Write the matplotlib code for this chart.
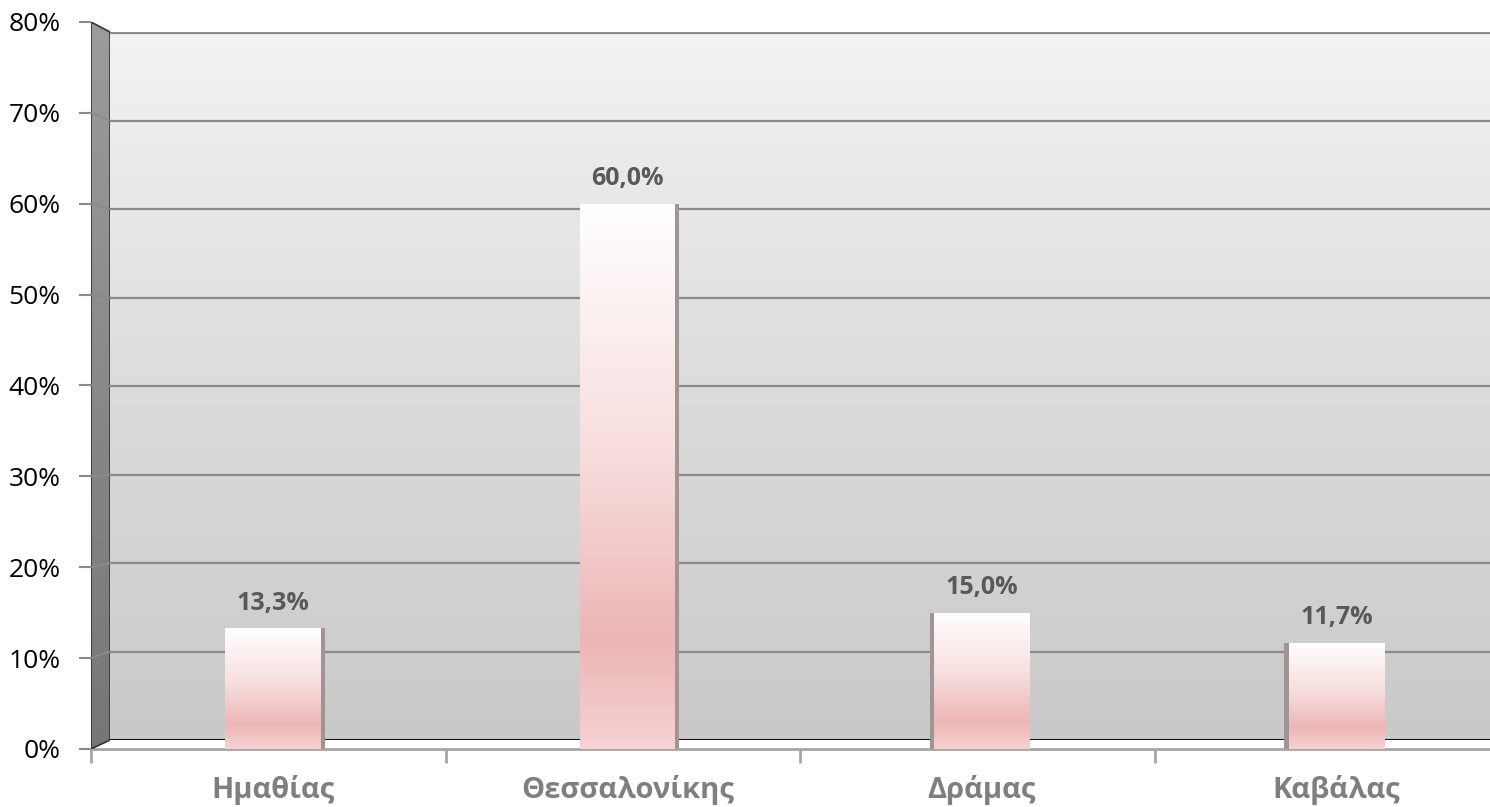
import matplotlib.pyplot as plt
import numpy as np
from matplotlib.colors import LinearSegmentedColormap
from matplotlib.patches import Polygon

# data
categories = ['Ημαθίας', 'Θεσσαλονίκης', 'Δράμας', 'Καβάλας']
values = [0.133, 0.600, 0.150, 0.117]
y_ticks = [0.0, 0.1, 0.2, 0.3, 0.4, 0.5, 0.6, 0.7, 0.8]

plt.rcParams['font.family'] = ['Open Sans', 'DejaVu Sans']

W, H = 1490, 807
fig = plt.figure(figsize=(W / 100, H / 100), dpi=100)


def px_axes(x0, y0, x1, y1, **kw):
    # pixel box (top-left origin) -> figure axes
    return fig.add_axes([x0 / W, 1 - y1 / H, (x1 - x0) / W, (y1 - y0) / H], **kw)


# back wall
back = px_axes(110, 32, 1530, 740)
back.set_xlim(0, 1)
back.set_ylim(0, 0.8)
wall_cmap = LinearSegmentedColormap.from_list('wall', ['#c9c9c9', '#dcdcdc', '#f3f3f3'])
back.imshow(np.linspace(0, 1, 256)[:, None], cmap=wall_cmap, aspect='auto',
            extent=[0, 1, 0, 0.8], origin='lower', zorder=0)
for t in y_ticks[1:-1]:
    back.axhline(t, color='#8a8a8a', lw=1.6, zorder=1)
back.axhline(0.8, color='#8a8a8a', lw=3, zorder=1)
back.axhline(0, color='#111111', lw=2.2, zorder=2)
back.axis('off')

# main (front) axes
ax = px_axes(91, 22, 1509, 749)
ax.patch.set_alpha(0)


# left side wall and its grid connectors (figure pixel coords)
def fpx(x, y):
    return (x / W, 1 - y / H)


front_y = lambda v: 749 - v / 0.8 * 727
back_y = lambda v: 740 - v / 0.8 * 708
side_cmap = LinearSegmentedColormap.from_list('side', ['#767676', '#9c9c9c'])
side_ax = px_axes(91, 22, 110, 749)
side_ax.set_xlim(0, 1)
side_ax.set_ylim(0, 1)
im = side_ax.imshow(np.linspace(0, 1, 256)[:, None], cmap=side_cmap, aspect='auto',
                    extent=[0, 1, 0, 1], origin='lower')
side_poly = Polygon([fpx(91, front_y(0)), fpx(110, back_y(0)), fpx(110, back_y(0.8)), fpx(91, front_y(0.8))],
                    closed=True, transform=fig.transFigure, facecolor='none',
                    edgecolor='#333333', lw=1.2)
side_ax.add_patch(side_poly)
im.set_clip_path(side_poly)
side_ax.axis('off')
for t in y_ticks[1:-1]:
    fig.add_artist(plt.Line2D([91 / W, 110 / W], [1 - front_y(t) / H, 1 - back_y(t) / H],
                              transform=fig.transFigure, color='#8a8a8a', lw=1.4))

# bars with vertical gradient
bar_cmap = LinearSegmentedColormap.from_list('bar', [(0, '#f6d2d2'), (0.2, '#ecb6b6'), (0.55, '#f8dede'), (1, '#ffffff')])
x = np.arange(len(categories)) + 0.013
bw = 0.27
bars = ax.bar(x, values, width=bw, color='none', edgecolor='none', zorder=3)
for i, (b, v) in enumerate(zip(bars, values)):
    x0 = b.get_x()
    img = ax.imshow(np.linspace(0, 1, 256)[:, None], cmap=bar_cmap, aspect='auto',
                    extent=[x0, x0 + bw, 0, v], origin='lower', zorder=3)
    img.set_clip_path(b)
    # narrow shaded side face
    sw = 0.012
    sx = x0 + bw if i < 2 else x0 - sw
    ax.bar(sx, v, width=sw, align='edge', color='#a09494', edgecolor='none', zorder=3)
    ax.annotate(f'{v * 100:.1f}%'.replace('.', ','), (x[i], v), xytext=(0, 9),
                textcoords='offset points', ha='center', va='bottom',
                fontsize=18, fontweight='bold', color='#595959')

ax.set_xlim(-0.5, 3.5)
ax.set_ylim(0, 0.8)

# axes styling
for s in ['top', 'right', 'left']:
    ax.spines[s].set_visible(False)
ax.spines['bottom'].set_color('#a6a6a6')
ax.spines['bottom'].set_linewidth(2)
ax.set_yticks(y_ticks)
ax.set_yticklabels([f'{int(round(t * 100))}%' for t in y_ticks], fontsize=19, color='black')
ax.tick_params(axis='y', length=9, width=1.5, color='#8a8a8a', pad=13)
ax.set_xticks(np.arange(-0.5, 4.0, 1.0))
ax.set_xticklabels([])
ax.tick_params(axis='x', length=10, width=2, color='#a6a6a6')
for i, c in enumerate(categories):
    ax.text(i + 0.013, -0.045, c, ha='center', va='center', fontsize=21,
            fontweight='bold', color='#7f7f7f', transform=ax.transData, clip_on=False)

fig.savefig('out.png', dpi=100)
